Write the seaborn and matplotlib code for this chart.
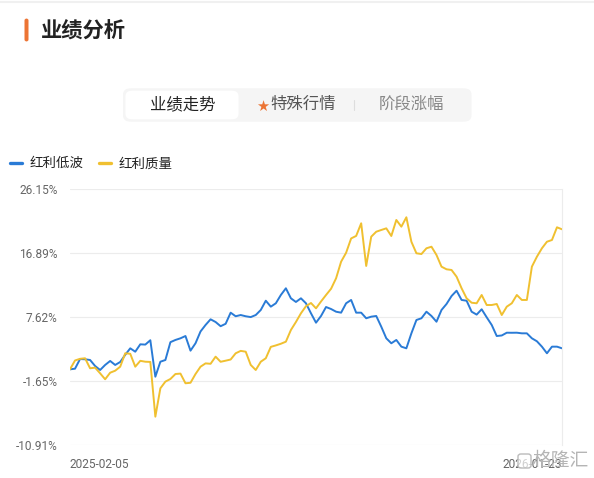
import matplotlib
matplotlib.use("Agg")
import matplotlib.pyplot as plt
from matplotlib.patches import FancyBboxPatch
from matplotlib.lines import Line2D
import seaborn as sns
import pandas as pd
import numpy as np

# ---------------- data (% return) ----------------
start_date = "2025-02-05"
end_date = "2026-01-23"
series_names = ["红利低波", "红利质量"]
low_vol = [0.09, 0.18, 1.58, 1.54, 1.44, 0.57, -0.01, 0.72, 1.30, 0.72,
           1.15, 2.19, 3.13, 2.64, 3.71, 3.67, 4.30, -0.98, 1.19, 1.44,
           4.02, 4.34, 4.58, 4.91, 2.79, 3.86, 5.57, 6.51, 7.33, 6.94,
           6.33, 6.68, 8.29, 7.77, 7.95, 7.77, 7.65, 7.95, 8.68, 10.02,
           9.16, 9.65, 10.85, 11.82, 10.37, 9.84, 10.37, 9.65, 8.20, 6.84,
           7.81, 9.11, 8.82, 8.43, 8.29, 9.65, 10.13, 8.29, 8.29, 7.48,
           7.71, 7.81, 6.26, 4.58, 3.86, 4.34, 3.37, 3.13, 5.30, 7.23,
           7.48, 8.43, 7.81, 6.98, 8.68, 9.55, 10.70, 11.47, 10.13, 10.02,
           8.43, 8.01, 8.78, 7.62, 6.51, 4.91, 4.99, 5.39, 5.38, 5.39,
           5.30, 5.30, 4.58, 4.15, 3.37, 2.41, 3.37, 3.37, 3.13]
quality = [0.09, 1.37, 1.61, 1.69, 0.24, 0.33, -0.49, -1.35, -0.40, -0.11,
           0.47, 2.41, 2.34, 0.47, 1.32, 1.19, 1.16, -6.77, -2.66, -1.69,
           -1.31, -0.59, -0.53, -1.93, -1.86, -0.59, 0.47, 0.95, 0.89, 1.92,
           1.18, 1.34, 1.51, 2.41, 2.76, 2.64, 0.72, -0.01, 1.19, 1.69,
           3.34, 3.55, 3.79, 4.09, 5.78, 6.94, 8.20, 9.23, 9.69, 8.92,
           9.91, 10.85, 11.75, 13.27, 15.67, 16.97, 19.04, 19.40, 21.23, 15.05,
           19.29, 20.01, 20.26, 20.50, 19.39, 21.71, 20.74, 22.10, 18.56, 16.89,
           16.78, 17.61, 17.84, 16.64, 14.95, 14.57, 14.47, 13.50, 11.82, 10.37,
           9.73, 9.65, 10.85, 9.40, 9.40, 9.55, 7.95, 9.16, 9.65, 10.85,
           10.13, 10.13, 14.95, 16.39, 17.61, 18.56, 18.81, 20.65, 20.36]
y_ticks = [26.15, 16.89, 7.62, -1.65, -10.91]
y_tick_labels = ["26.15%", "16.89%", "7.62%", "-1.65%", "-10.91%"]
tab_labels = ["业绩走势", "特殊行情", "阶段涨幅"]
title_text = "业绩分析"
watermark_text = "格隆汇"

# ---------------- style ----------------
sns.set_theme(style="white")
plt.rcParams["font.family"] = ["Noto Sans CJK SC", "DejaVu Sans"]
plt.rcParams["axes.unicode_minus"] = False

BLUE = "#2a7bd6"
YELLOW = "#f0c030"
ORANGE = "#ec7434"

dates = pd.date_range(start_date, end_date, periods=len(low_vol))
df = pd.DataFrame({
    "date": np.concatenate([dates, dates]),
    "value": low_vol + quality,
    "series": [series_names[0]] * len(low_vol) + [series_names[1]] * len(quality),
})

W, H = 594, 478
fig = plt.figure(figsize=(W / 100, H / 100), dpi=100)
fig.patch.set_facecolor("white")


def fx(px):
    return px / W


def fy(py):
    return 1 - py / H


# top faint separator
fig.add_artist(Line2D([0, 1], [fy(2), fy(2)], color="#f0f0f0", lw=1.5))

# title block
fig.add_artist(FancyBboxPatch((fx(24.5), fy(41.5)), fx(4), fy(18.5) - fy(41.5),
                              boxstyle="round,pad=0,rounding_size=0.004",
                              fc=ORANGE, ec="none"))
fig.text(fx(40.5), fy(30.5), title_text, fontsize=15.3, fontweight="bold",
         color="#222222", va="center", ha="left")

# tab bar
fig.add_artist(FancyBboxPatch((fx(123), fy(121.7)), fx(471.5 - 123), fy(88.3) - fy(121.7),
                              boxstyle="round,pad=0,rounding_size=0.013",
                              fc="#f5f5f5", ec="none"))
fig.add_artist(FancyBboxPatch((fx(125.5), fy(119.3)), fx(238.5 - 125.5), fy(90.7) - fy(119.3),
                              boxstyle="round,pad=0,rounding_size=0.011",
                              fc="white", ec="none"))
fig.text(fx(182.4), fy(104.3), tab_labels[0], fontsize=11.8, color="#222222",
         ha="center", va="center", fontweight="medium")
fig.text(fx(262.5), fy(106), "★", fontsize=10.5, color=ORANGE, ha="center", va="center",
         family=["DejaVu Sans"])
fig.text(fx(303.6), fy(104.3), tab_labels[1], fontsize=11.8, color="#555555",
         ha="center", va="center")
fig.add_artist(Line2D([fx(354), fx(354)], [fy(100), fy(110)], color="#dddddd", lw=0.8))
fig.text(fx(411.4), fy(104.3), tab_labels[2], fontsize=11.8, color="#888888",
         ha="center", va="center")

# main axes
ax = fig.add_axes([fx(70), fy(445.3), fx(562 - 70), fy(189.3) - fy(445.3)])
sns.lineplot(data=df, x="date", y="value", hue="series",
             palette={series_names[0]: BLUE, series_names[1]: YELLOW},
             linewidth=1.4, ax=ax, legend=False)

ax.set_ylim(y_ticks[-1], y_ticks[0])
ax.set_xlim(dates[0], dates[-1])
ax.set_yticks(y_ticks)
ax.set_yticklabels(y_tick_labels, family=["Roboto", "DejaVu Sans"])
ax.set_xticks([dates[0], dates[-1]])
ax.set_xticklabels([start_date, end_date], family=["Roboto", "DejaVu Sans"])
xl = ax.get_xticklabels()
xl[0].set_ha("left")
xl[1].set_ha("right")
ax.tick_params(axis="y", length=0, pad=9, labelsize=8.6, labelcolor="#666666")
ax.tick_params(axis="x", length=0, pad=9, labelsize=8.6, labelcolor="#666666")
ax.set_xlabel("")
ax.set_ylabel("")
ax.grid(axis="y", color="#ececec", lw=0.8)
ax.grid(axis="x", visible=False)
for side in ["left", "top", "bottom"]:
    ax.spines[side].set_visible(False)
ax.spines["right"].set_color("#ececec")
ax.spines["right"].set_linewidth(0.8)

# legend
handles = [Line2D([0], [0], color=BLUE, lw=2.4), Line2D([0], [0], color=YELLOW, lw=2.4)]
fig.legend(handles, series_names, loc="center left",
           bbox_to_anchor=(fx(9.5), fy(163.3)), bbox_transform=fig.transFigure,
           ncol=2, frameon=False, fontsize=9.7, handlelength=0.93,
           handletextpad=0.56, columnspacing=1.13, borderpad=0, borderaxespad=0,
           labelcolor="#222222")

# watermark (overlays the last date label as in the source)
fig.add_artist(FancyBboxPatch((fx(518), fy(468)), fx(13), fy(454) - fy(468),
                              boxstyle="round,pad=0,rounding_size=0.005",
                              fc=(1, 1, 1, 0.7), ec="#bbbbbb", lw=1.0))
fig.text(fx(561), fy(460), watermark_text, fontsize=13.5, color="#b5b5b5",
         ha="center", va="center")

fig.savefig("out.png", dpi=100, facecolor="white")
